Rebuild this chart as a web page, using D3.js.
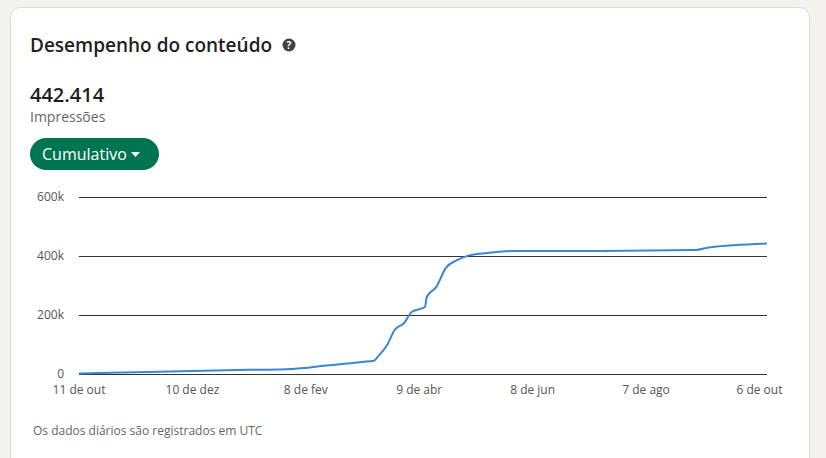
<!DOCTYPE html><html><head><meta charset="utf-8"><script src="https://cdn.jsdelivr.net/npm/d3@7"></script>
<style>body{margin:0;background:#f4f2ee;font-family:"Open Sans",Roboto,sans-serif}</style></head><body><svg id="c" width="826" height="458"></svg>
<script>
const dates=["2022-10-11","2022-11-17","2023-01-09","2023-01-25","2023-02-07","2023-02-12","2023-03-10","2023-03-16","2023-03-18","2023-03-23","2023-03-27","2023-04-01","2023-04-05","2023-04-12","2023-04-13","2023-04-18","2023-04-23","2023-04-29","2023-05-06","2023-05-15","2023-05-29","2023-07-14","2023-09-02","2023-09-10","2023-10-10"];
const values=[2000,7000,14000,15000,20000,24000,41000,45000,58000,98000,149000,173000,210000,227000,261000,295000,359000,386000,403000,410000,417000,417000,420000,430000,442000];
const xTicks=[["2022-10-11","11 de out"],["2022-12-10","10 de dez"],["2023-02-08","8 de fev"],["2023-04-09","9 de abr"],["2023-06-08","8 de jun"],["2023-08-07","7 de ago"],["2023-10-06","6 de out"]];
const yTicks=[0,200000,400000,600000];
const yLabels=["0","200k","400k","600k"];
const P=d3.timeParse("%Y-%m-%d");
const svg=d3.select("#c");
svg.append("rect").attr("x",10.5).attr("y",7.5).attr("width",799).attr("height",470).attr("rx",10).attr("fill","#fff").attr("stroke","#dfdcd6");
svg.append("text").attr("x",30).attr("y",52).attr("font-size",19).attr("font-weight",600).attr("fill","#1f1f1f").text("Desempenho do conteúdo");
svg.append("circle").attr("cx",289).attr("cy",45).attr("r",6.5).attr("fill","#404040");
svg.append("text").attr("x",289).attr("y",49).attr("text-anchor","middle").attr("font-size",10).attr("font-weight",700).attr("fill","#fff").text("?");
svg.append("text").attr("x",30).attr("y",102).attr("font-size",20).attr("font-weight",600).attr("fill","#1f1f1f").text("442.414");
svg.append("text").attr("x",30).attr("y",122).attr("font-size",14).attr("fill","#666").text("Impressões");
svg.append("rect").attr("x",30).attr("y",138).attr("width",129).attr("height",32).attr("rx",16).attr("fill","#01754f");
svg.append("text").attr("x",42).attr("y",160).attr("font-size",16).attr("font-weight",500).attr("fill","#fff").text("Cumulativo");
svg.append("path").attr("d","M131,152 l9,0 l-4.5,5 z").attr("fill","#fff");
const x=d3.scaleTime().domain([P("2022-10-11"),P("2023-10-10")]).range([79,767]);
const y=d3.scaleLinear().domain([0,600000]).range([374,197]);
svg.append("g").selectAll("line").data(yTicks).join("line").attr("x1",79).attr("x2",767).attr("y1",d=>y(d)+.5).attr("y2",d=>y(d)+.5).attr("stroke","#333");
svg.append("g").selectAll("text").data(yTicks).join("text").attr("x",64).attr("y",d=>y(d)+4).attr("text-anchor","end").attr("font-size",12).attr("fill","#555").text((d,i)=>yLabels[i]);
svg.append("g").selectAll("text").data(xTicks).join("text").attr("x",d=>x(P(d[0]))).attr("y",394).attr("text-anchor","middle").attr("font-size",12).attr("fill","#555").text(d=>d[1]);
const data=dates.map((d,i)=>({d:P(d),v:values[i]}));
svg.append("path").datum(data).attr("fill","none").attr("stroke","#3a86d6").attr("stroke-width",2).attr("d",d3.line().x(d=>x(d.d)).y(d=>y(d.v)).curve(d3.curveMonotoneX));
svg.append("text").attr("x",33).attr("y",435).attr("font-size",12).attr("fill","#666").text("Os dados diários são registrados em UTC");
</script></body></html>
